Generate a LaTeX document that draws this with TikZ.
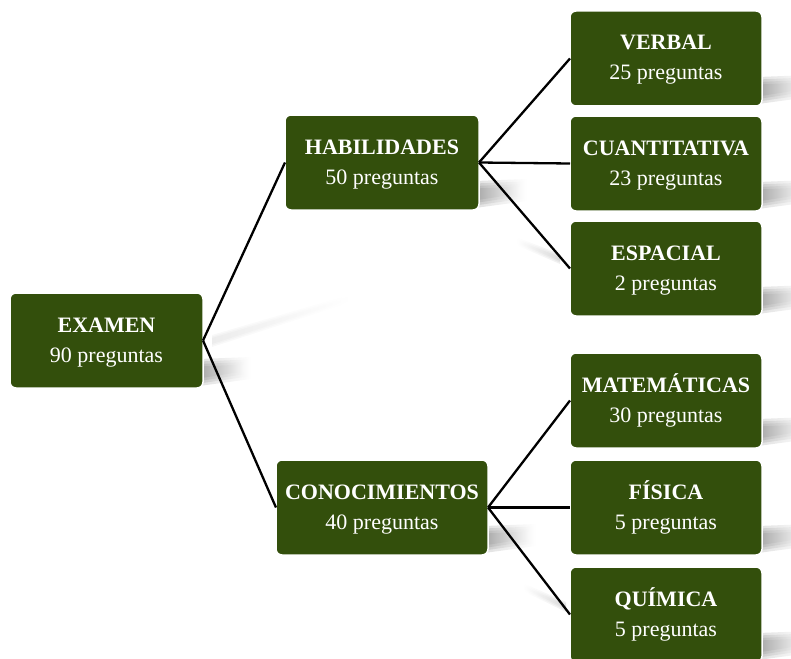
\documentclass[tikz,border=0pt]{standalone}
\usepackage{fontspec}
\setmainfont{Liberation Serif}
\definecolor{boxgreen}{RGB}{51,79,12}
\tikzset{
  boxst/.style={draw=white, line width=1.5pt, fill=boxgreen, rounded corners=6pt, inner sep=0pt, outer sep=0pt, anchor=north west},
  titlest/.style={text=white, font=\fontsize{22}{26}\selectfont\bfseries, anchor=base, inner sep=0pt},
  subst/.style={text=white, font=\fontsize{22}{26}\selectfont, anchor=base, inner sep=0pt},
  conn/.style={draw=black, line width=2.3pt},
  shadowst/.style={left color=black!55, right color=white, opacity=0.22},
  streakst/.style={left color=black!30, right color=white, opacity=0.2},
}
% #1 name, #2 left, #3 top, #4 right, #5 title, #6 subtitle
\newcommand\mybox[6]{%
  \foreach \d in {0,2.5,5,7.5}{%
    \shade[shadowst] ({#4-4},{-(#3+93-\d)}) -- ({#4-4},{-(#3+66+\d)}) -- ({#4+48-\d},{-(#3+64+\d)}) -- ({#4+48-\d},{-(#3+86-\d)}) -- cycle;
  }
  \node[boxst, minimum width={#4-#2}, minimum height=95] (#1) at (#2,-#3) {};
  \node[titlest] (#1t) at ({(#2+#4)/2},{-(#3+39)}) {#5};
  \node[subst] (#1s) at ({(#2+#4)/2},{-(#3+69)}) {#6};
}
\begin{document}
\begin{tikzpicture}[x=1pt,y=1pt]
\useasboundingbox (0,0) rectangle (791,-658);
% faint perspective streaks
\foreach \d in {0,1.5,3}{%
  \shade[streakst, opacity=0.09] (212,{-335-\d}) -- (212,{-347+\d}) -- (352,{-302+\d}) -- (352,{-294-\d}) -- cycle;
  \shade[streakst, left color=white, right color=black!30] (516,{-237-\d}) -- (516,{-245+\d}) -- (560,{-264+\d}) -- (560,{-254-\d}) -- cycle;
  \shade[streakst, left color=white, right color=black!30] (523,{-583-\d}) -- (523,{-591+\d}) -- (566,{-612+\d}) -- (566,{-602-\d}) -- cycle;
}
% boxes
\mybox{examen}{10}{293}{203}{EXAMEN}{90 preguntas}
\mybox{habil}{285}{115}{479}{HABILIDADES}{50 preguntas}
\mybox{conoc}{276}{460}{488}{CONOCIMIENTOS}{40 preguntas}
\mybox{verbal}{570}{11}{762}{VERBAL}{25 preguntas}
\mybox{cuant}{570}{116}{762}{CUANTITATIVA}{23 preguntas}
\mybox{espac}{570}{221}{762}{ESPACIAL}{2 preguntas}
\mybox{matem}{570}{353}{762}{MATEMÁTICAS}{30 preguntas}
\mybox{fisica}{570}{460}{762}{FÍSICA}{5 preguntas}
\mybox{quimica}{570}{567}{762}{QUÍMICA}{5 preguntas}
% connectors
\draw[conn] (examen.east) -- (habil.west);
\draw[conn] (examen.east) -- (conoc.west);
\draw[conn] (habil.east) -- (verbal.west);
\draw[conn] (habil.east) -- (cuant.west);
\draw[conn] (habil.east) -- (espac.west);
\draw[conn] (conoc.east) -- (matem.west);
\draw[conn] (conoc.east) -- (fisica.west);
\draw[conn] (conoc.east) -- (quimica.west);
\end{tikzpicture}
\end{document}
